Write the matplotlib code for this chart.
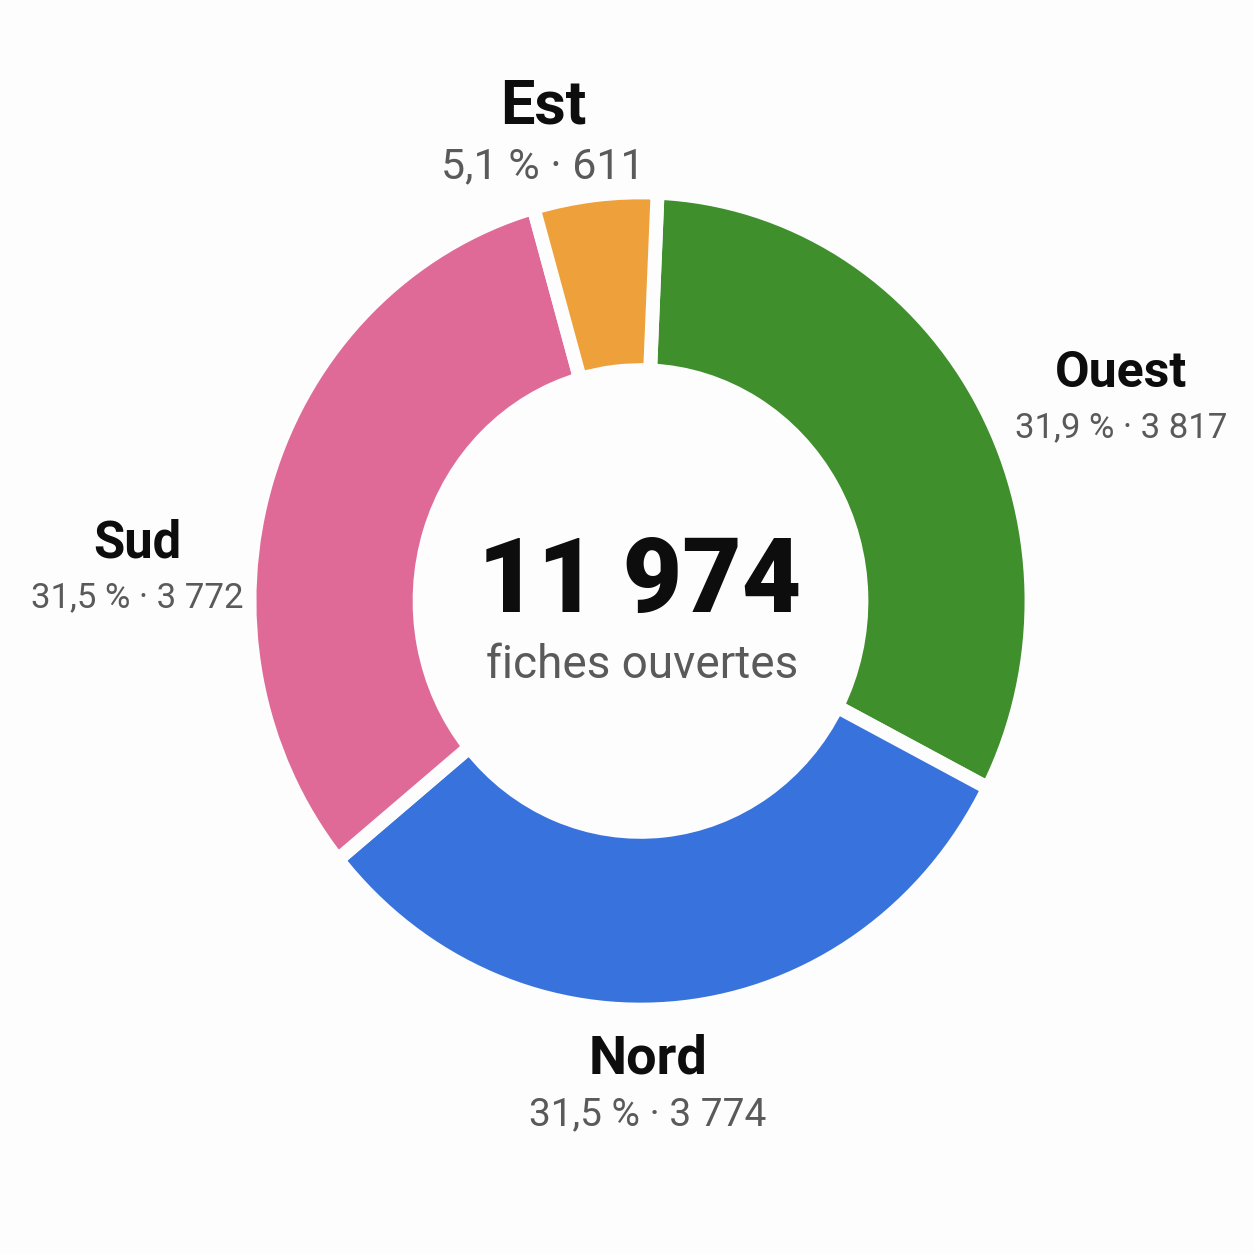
import matplotlib.pyplot as plt

regions = ['Ouest', 'Nord', 'Sud', 'Est']
counts = [3817, 3774, 3772, 611]
colors = ['#3f8f2c', '#3873dd', '#e06a97', '#eea03a']
center_caption = 'fiches ouvertes'

W = 1254  # pixels
total = sum(counts)


def fr_int(n):
    return f'{n:,}'.replace(',', ' ')


def fr_pct(v):
    return f'{v:.1f}'.replace('.', ',')


fig = plt.figure(figsize=(12.54, 12.54), dpi=100, facecolor='#fdfdfd')
ax = fig.add_axes([0, 0, 1, 1])
ax.set_facecolor('#fdfdfd')

ax.pie(counts, colors=colors, startangle=87.5, counterclock=False, radius=1.0,
       wedgeprops=dict(width=0.435, edgecolor='#fdfdfd', linewidth=10))

# ring is a bit taller than wide in the reference
sx = 391.0
sy = 391.0 * 1.045
cx, cy = 640.5, W - 601.0
ax.set_aspect('auto')
ax.set_xlim(-cx / sx, (W - cx) / sx)
ax.set_ylim(-cy / sy, (W - cy) / sy)
ax.axis('off')

# label layout: (x centre px, name baseline px, sub baseline px, name size, sub size)
layout = {
    'Est': (543, 123, 178, 44, 31),
    'Ouest': (1121, 387, 437, 36, 25),
    'Sud': (137, 557, 607, 36.5, 25),
    'Nord': (648, 1074, 1125, 39, 28),
}

for name, n in zip(regions, counts):
    x, yn, ys, fs_n, fs_s = layout[name]
    fig.text(x / W, 1 - yn / W, name, ha='center', va='baseline',
             fontsize=fs_n, fontweight='bold', family=['Roboto', 'DejaVu Sans'],
             color='#0d0d0d')
    sub = f'{fr_pct(n / total * 100)} % · {fr_int(n)}'
    fig.text(x / W, 1 - ys / W, sub, ha='center', va='baseline',
             fontsize=fs_s, family=['Roboto', 'DejaVu Sans'], color='#5a5a5a')

fig.text(640 / W, 1 - 612 / W, fr_int(total), ha='center', va='baseline',
         fontsize=74, fontweight='heavy', family=['Roboto', 'DejaVu Sans'],
         color='#0d0d0d')
fig.text(642 / W, 1 - 678 / W, center_caption, ha='center', va='baseline',
         fontsize=33, family=['Roboto', 'DejaVu Sans'], color='#5a5a5a')

fig.savefig('out.png', dpi=100, facecolor=fig.get_facecolor())
